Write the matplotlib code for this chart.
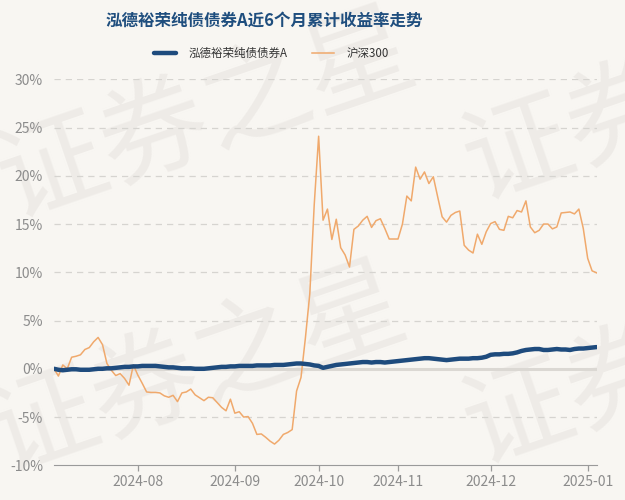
import matplotlib
matplotlib.use("Agg")
import matplotlib.pyplot as plt
import numpy as np
import pandas as pd

plt.rcParams['font.family'] = ['Noto Sans CJK SC', 'DejaVu Sans']

# 交易日（休市日剔除）
holidays = ['2024-09-16', '2024-09-17', '2024-10-01', '2024-10-02', '2024-10-03',
            '2024-10-04', '2024-10-07', '2025-01-01']
dates = pd.bdate_range('2024-07-05', '2025-01-06').drop(pd.to_datetime(holidays))

# 累计收益率 (%)
fund = [0.0, -0.1, -0.15, -0.1, -0.05, -0.05, -0.1, -0.1, -0.1, -0.05,
        0.0, 0.0, 0.05, 0.05, 0.1, 0.15, 0.2, 0.2, 0.25, 0.25,
        0.3, 0.3, 0.3, 0.3, 0.25, 0.2, 0.15, 0.15, 0.1, 0.05,
        0.05, 0.05, 0.0, 0.0, 0.0, 0.05, 0.1, 0.15, 0.2, 0.2,
        0.25, 0.25, 0.3, 0.3, 0.3, 0.3, 0.35, 0.35, 0.35, 0.35,
        0.4, 0.4, 0.4, 0.45, 0.5, 0.55, 0.55, 0.5, 0.45, 0.35,
        0.3, 0.1, 0.2, 0.3, 0.4, 0.45, 0.5, 0.55, 0.6, 0.65,
        0.7, 0.7, 0.65, 0.7, 0.7, 0.65, 0.7, 0.75, 0.8, 0.85,
        0.9, 0.95, 1.0, 1.05, 1.1, 1.1, 1.05, 1.0, 0.95, 0.9,
        0.95, 1.0, 1.05, 1.05, 1.05, 1.1, 1.1, 1.15, 1.25, 1.45,
        1.5, 1.5, 1.55, 1.55, 1.6, 1.7, 1.85, 1.95, 2.0, 2.05,
        2.05, 1.95, 1.95, 2.0, 2.05, 2.0, 2.0, 1.95, 2.05, 2.1,
        2.1, 2.15, 2.2, 2.25]
hs300 = [0.0, -0.75, 0.4, 0.0, 1.2, 1.3, 1.45, 2.0, 2.2, 2.8,
         3.25, 2.5, 0.55, -0.15, -0.7, -0.5, -1.0, -1.7, 0.4, -0.65,
         -1.5, -2.4, -2.45, -2.45, -2.5, -2.8, -2.95, -2.75, -3.4, -2.5,
         -2.4, -2.1, -2.7, -3.0, -3.3, -2.95, -3.0, -3.5, -4.0, -4.35,
         -3.15, -4.6, -4.45, -5.0, -4.95, -5.65, -6.8, -6.75, -7.1, -7.5,
         -7.8, -7.4, -6.8, -6.6, -6.3, -2.3, -0.9, 3.2, 7.8, 17.0,
         24.1, 15.4, 16.55, 13.4, 15.5, 12.55, 11.8, 10.55, 14.45, 14.8,
         15.4, 15.8, 14.65, 15.35, 15.55, 14.55, 13.45, 13.45, 13.45, 15.0,
         17.9, 17.4, 20.9, 19.65, 20.4, 19.2, 19.9, 17.8, 15.75, 15.2,
         15.9, 16.2, 16.35, 12.8, 12.3, 12.0, 13.95, 12.9, 14.2, 15.05,
         15.25, 14.45, 14.35, 15.8, 15.65, 16.4, 16.25, 17.4, 14.7, 14.1,
         14.35, 15.0, 15.0, 14.5, 14.7, 16.15, 16.2, 16.25, 16.05, 16.55,
         14.55, 11.45, 10.15, 9.95]

names = ['泓德裕荣纯债债券A', '沪深300']
title = '泓德裕荣纯债债券A近6个月累计收益率走势'
yticks = [-10, -5, 0, 5, 10, 15, 20, 25, 30]

bg = '#f8f6f2'
fig = plt.figure(figsize=(6.25, 5), dpi=100, facecolor=bg)
ax = fig.add_axes([0.0864, 0.0694, 0.868, 0.772])
ax.set_facecolor('none')

# 水印
for cx, cy in [(207, 118), (198, 372), (673, 100), (673, 364)]:
    fig.text(cx / 625, 1 - cy / 500, '证券之星', fontsize=78, color='#eeebe7',
             rotation=19, ha='center', va='center', zorder=-1)

x = np.arange(len(dates))
ax.axhline(0, color='#dbd8d3', lw=2.2, zorder=1)
ax.plot(x, hs300, color='#f0a96c', lw=1.1, label=names[1], zorder=3)
ax.plot(x, fund, color='#1e4b7d', lw=3.2, label=names[0], zorder=4,
        solid_capstyle='round')

ax.set_xlim(0, len(dates) - 1)
ax.set_ylim(-10, 30)
ax.set_yticks(yticks)
ax.set_yticklabels([f'{v}%' for v in yticks])
for v in yticks[1:]:
    if v != 0:
        ax.axhline(v, color='#d6d4d0', lw=0.9, ls=(0, (5, 4)), zorder=0)

months = dates.to_period('M')
pos = [i for i in range(1, len(dates)) if months[i] != months[i - 1]]
ax.set_xticks(pos)
ax.set_xticklabels([dates[i].strftime('%Y-%m') for i in pos])

for s in ['top', 'right', 'left']:
    ax.spines[s].set_visible(False)
ax.spines['bottom'].set_color('#9a9a9a')
ax.tick_params(axis='x', colors='#9a9a9a', length=4, width=0.9, pad=3,
               labelsize=10, labelcolor='#8c8c8c')
ax.tick_params(axis='y', length=0, pad=8, labelsize=10, labelcolor='#8c8c8c')

handles, labels = ax.get_legend_handles_labels()
fig.legend(handles[::-1], labels[::-1], loc='center', bbox_to_anchor=(0.434, 0.893),
           ncol=2, frameon=False, fontsize=8.3, handlelength=1.9,
           handletextpad=1.1, columnspacing=2.1, labelcolor='#333333')

fig.text(0.423, 0.958, title, ha='center', va='center', fontsize=11.9,
         fontweight='bold', color='#1f4e7e')

fig.savefig('out.png', dpi=100, facecolor=bg)
